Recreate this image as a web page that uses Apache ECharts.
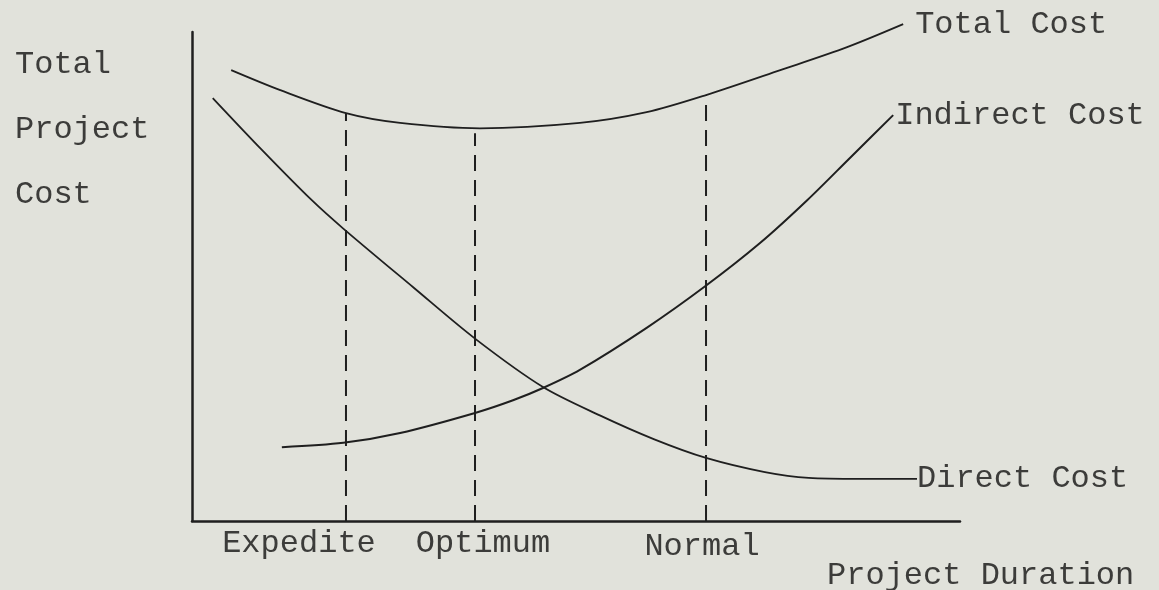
<!DOCTYPE html>
<html><head><meta charset="utf-8">
<script src="https://cdn.jsdelivr.net/npm/echarts@6/dist/echarts.min.js"></script>
<style>html,body{margin:0;padding:0;background:#e1e2db}#c{width:1159px;height:590px}</style>
</head><body><div id="c"></div>
<script>
// Project duration (x, 0-100) and cost (y, 0-100)
const totalX    = [5.1, 11.5, 20.05, 27.1, 37.5, 50.5, 59.2, 66.93, 76.6, 85.3, 92.6];
const totalY    = [92.2, 88.1, 83.4, 81.4, 80.3, 81.4, 83.6, 87.1, 92.2, 96.9, 101.6];
const directX   = [2.7, 9.1, 15.6, 19.7, 28.8, 36.85, 45.7, 53.1, 60.2, 66.93, 74.6, 80.3, 87.0, 94.4];
const directY   = [86.5, 75.9, 65.6, 59.8, 47.8, 37.3, 27.4, 21.6, 16.7, 12.9, 10.0, 8.8, 8.6, 8.6];
const indirectX = [11.7, 19.7, 27.1, 36.85, 41.8, 45.7, 50.5, 59.2, 66.9, 74.0, 80.1, 85.7, 91.3];
const indirectY = [15.1, 16.0, 18.0, 22.1, 24.7, 27.2, 30.9, 39.5, 48.1, 56.9, 65.6, 74.3, 83.0];
const milestoneNames = ['Expedite', 'Optimum', 'Normal'];
const milestoneX     = [20.05, 36.85, 66.93];
const milestoneTop   = [83.4, 79.3, 87.1];
const yTitle = ['Total', 'Project', 'Cost'];
const xTitle = 'Project Duration';

const FONT = '"Liberation Mono", "DejaVu Sans Mono", monospace';
const TXT = '#3c3c3a';
const INK = '#1f1f1f';
const labelOffsets = [[-47, -2], [8, -2], [-4, 1]];

const pair = (xs, ys) => xs.map((x, i) => [x, ys[i]]);
const curve = (name, xs, ys, w, dist) => ({
  name, type: 'line', data: pair(xs, ys), smooth: 0.3,
  showSymbol: false, symbol: 'none', clip: false, silent: true,
  lineStyle: { color: INK, width: w },
  endLabel: { show: true, formatter: '{a}', distance: dist, fontFamily: FONT, fontSize: 32, color: TXT }
});

const series = [
  curve('Total Cost', totalX, totalY, 1.8, 12),
  curve('Indirect Cost', indirectX, indirectY, 2, 2),
  curve('Direct Cost', directX, directY, 1.8, 0)
];
milestoneX.forEach((x, i) => {
  series.push({
    type: 'line', data: [[x, 0], [x, milestoneTop[i]]], showSymbol: false, symbol: 'none', silent: true,
    lineStyle: { color: INK, width: 2, type: [16, 9] }
  });
});
series.push({
  type: 'scatter', symbolSize: 1, silent: true, itemStyle: { color: 'rgba(0,0,0,0)', opacity: 1 },
  data: milestoneX.map((x, i) => ({
    value: [x, 0], name: milestoneNames[i],
    label: { show: true, position: 'bottom', distance: 8, offset: labelOffsets[i], formatter: '{b}',
      fontFamily: FONT, fontSize: 32, color: TXT, opacity: 1 }
  }))
});

const chart = echarts.init(document.getElementById('c'));
chart.setOption({
  backgroundColor: '#e1e2db',
  animation: false,
  title: [
    { text: yTitle.join('\n'), left: 10, top: 27,
      textStyle: { fontFamily: FONT, fontSize: 32, fontWeight: 'normal', color: TXT, lineHeight: 65 } },
    { text: xTitle, left: 822, top: 553,
      textStyle: { fontFamily: FONT, fontSize: 32, fontWeight: 'normal', color: TXT, lineHeight: 36 } }
  ],
  grid: { left: 192, top: 32, width: 768, height: 489, containLabel: false },
  xAxis: { type: 'value', min: 0, max: 100, splitLine: { show: false },
    axisTick: { show: false }, axisLabel: { show: false },
    axisLine: { show: true, lineStyle: { color: INK, width: 2.5 } } },
  yAxis: { type: 'value', min: 0, max: 100, splitLine: { show: false },
    axisTick: { show: false }, axisLabel: { show: false },
    axisLine: { show: true, lineStyle: { color: INK, width: 2.5 } } },
  series
});
</script>
</body></html>
